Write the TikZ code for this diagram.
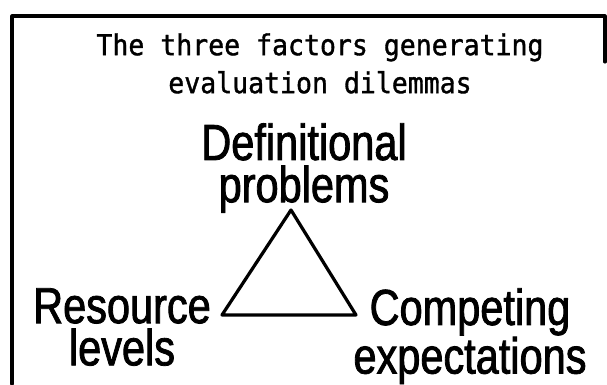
\documentclass[tikz,border=0pt]{standalone}
\usepackage{fontspec}
\newfontfamily\headfont[FakeStretch=0.92,FakeBold=1.2]{DejaVu Sans Mono}
\newfontfamily\factorfont[FakeStretch=0.82,FakeBold=1.6]{Liberation Sans}
\usetikzlibrary{positioning}
\tikzset{
    % Title text
    titletext/.style={
        align=center,
        inner sep=0pt,
        anchor=north,
        font=\headfont\fontsize{20.5}{27}\selectfont
    },
    % Factor labels at the corners
    factornode/.style={
        align=center,
        inner sep=0pt,
        anchor=north,
        font=\factorfont\fontsize{36}{30}\selectfont
    },
    % Frame and triangle lines
    frameline/.style={
        line width=2.2pt,
        line cap=round,
        line join=round
    },
    triline/.style={
        line width=2.3pt,
        line join=round
    }
}
\begin{document}
\begin{tikzpicture}[x=0.025cm, y=-0.025cm]
    \useasboundingbox (0,0) rectangle (607,384);
    % frame
    \coordinate (fbl) at (12,384);
    \coordinate (ftl) at (12,16);
    \coordinate (ftr) at (605,16);
    \coordinate (fbr) at (605,62);
    \draw[frameline] (fbl) -- (ftl) -- (ftr) -- (fbr);

    \node[titletext] (title) at (320,33) {The three factors generating\\evaluation dilemmas};

    \node[factornode] (defn) at (304,123) {Definitional\\problems};
    \node[factornode] (reso) at (122,288) {Resource\\levels};
    \node[factornode] (comp) at (470,288) {Competing\\expectations};

    % triangle
    \coordinate (apex) at (291,210);
    \coordinate (lcorner) at (222,315);
    \coordinate (rcorner) at (356,315);
    \draw[triline] (apex) -- (lcorner) -- (rcorner) -- cycle;
\end{tikzpicture}
\end{document}
